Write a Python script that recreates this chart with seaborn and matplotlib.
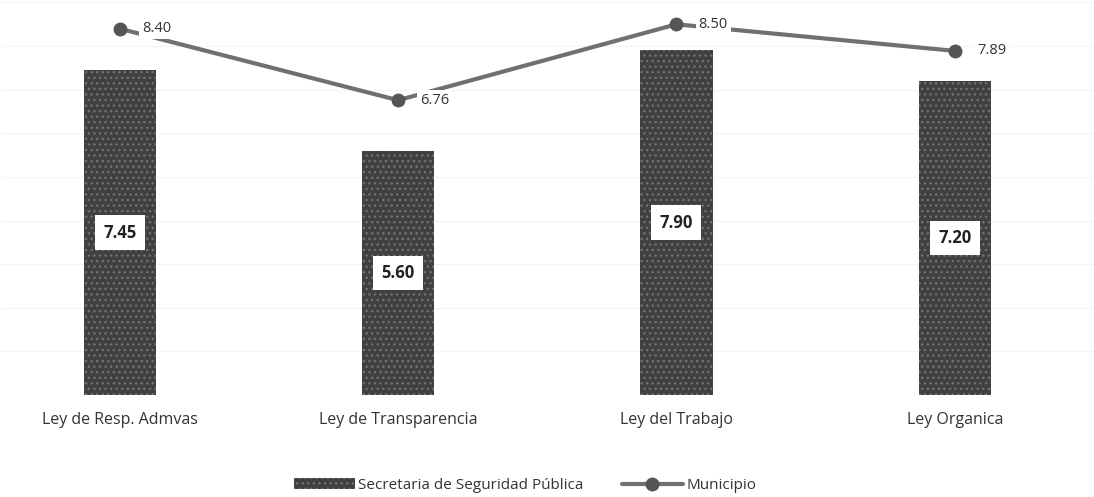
import matplotlib.pyplot as plt
import seaborn as sns
import pandas as pd

# Datos
categorias = ['Ley de Resp. Admvas', 'Ley de Transparencia', 'Ley del Trabajo', 'Ley Organica']
secretaria = [7.45, 5.60, 7.90, 7.20]
municipio = [8.40, 6.76, 8.50, 7.89]

df = pd.DataFrame({'Categoria': categorias, 'Secretaria': secretaria, 'Municipio': municipio})

sns.set_style('white')
plt.rcParams['font.family'] = ['Open Sans', 'DejaVu Sans']

fig = plt.figure(figsize=(10.94, 4.97), dpi=100)
ax = fig.add_axes([0, 0.205, 1, 0.79])

sns.barplot(data=df, x='Categoria', y='Secretaria', color='#404040', width=0.26,
            ax=ax, label='Secretaria de Seguridad Pública', saturation=1)
for p in ax.patches:
    p.set_hatch('...')
    p.set_edgecolor('#727272')
    p.set_linewidth(0)

ax.plot(range(len(categorias)), municipio, color='#707070', linewidth=3,
        marker='o', markersize=9, markerfacecolor='#555555', markeredgecolor='#555555',
        label='Municipio')

for i, v in enumerate(secretaria):
    ax.text(i, v / 2, f'{v:.2f}', ha='center', va='center', fontsize=12, fontweight='bold',
            color='#222222', bbox=dict(boxstyle='square,pad=0.5', facecolor='white', edgecolor='none'))
for i, v in enumerate(municipio):
    ax.text(i + 0.08, v, f'{v:.2f}', ha='left', va='center', fontsize=10.5, color='#333333',
            bbox=dict(boxstyle='square,pad=0.2', facecolor='white', edgecolor='none'))

ax.set_ylim(0, 9)
ax.set_xlim(-0.43, 3.5)
ax.yaxis.grid(True, color='#f4f4f4', linewidth=0.8)
ax.set_yticks(range(0, 10))
ax.tick_params(axis='y', left=False, labelleft=False)
ax.tick_params(axis='x', length=0, pad=12, labelsize=11.5, labelcolor='#333333')
ax.set_xlabel('')
ax.set_ylabel('')
sns.despine(ax=ax, left=True, right=True, top=True, bottom=True)

handles, labels = ax.get_legend_handles_labels()
orden = [labels.index('Secretaria de Seguridad Pública'), labels.index('Municipio')]
if ax.get_legend():
    ax.get_legend().remove()
leg = fig.legend([handles[k] for k in orden], [labels[k] for k in orden],
                 loc='lower center', bbox_to_anchor=(0.48, -0.02),
                 ncol=2, frameon=False, fontsize=11, handlelength=4.0, columnspacing=2.5,
                 handletextpad=0.2)
for t in leg.get_texts():
    t.set_color('#333333')

fig.savefig('out.png', dpi=100)
